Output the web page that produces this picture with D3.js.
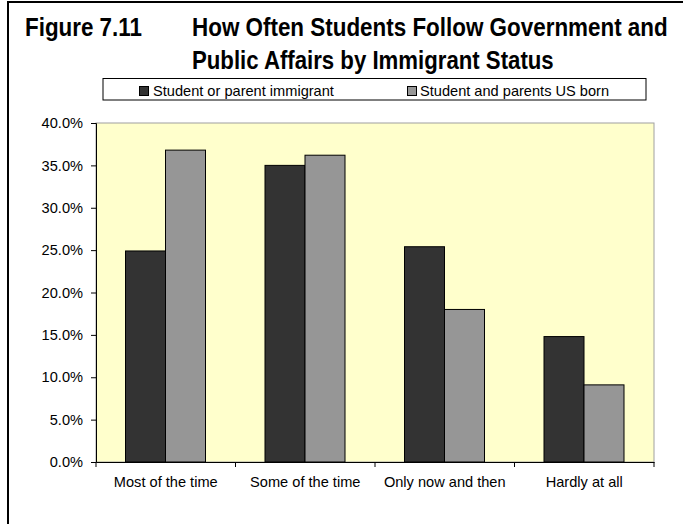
<!DOCTYPE html>
<html>
<head>
<meta charset="utf-8">
<script src="https://cdn.jsdelivr.net/npm/d3@7"></script>
<style>
  html, body { margin: 0; padding: 0; background: #ffffff; }
  svg { display: block; }
  text { font-family: Arial, "Liberation Sans", sans-serif; }
</style>
</head>
<body>
<svg id="chart" width="683" height="524"></svg>
<script>
const categories = ["Most of the time", "Some of the time", "Only now and then", "Hardly at all"];
const seriesNames = ["Student or parent immigrant", "Student and parents US born"];
const immigrantValues = [24.9, 35.0, 25.4, 14.8];
const usBornValues = [36.8, 36.2, 18.0, 9.1];
const yTickValues = [0, 5, 10, 15, 20, 25, 30, 35, 40];
const titleLabel = "Figure 7.11";
const titleLines = ["How Often Students Follow Government and", "Public Affairs by Immigrant Status"];

const colors = ["#333333", "#969696"];
const seriesValues = [immigrantValues, usBornValues];
const FONT = "Arial, 'Liberation Sans', sans-serif";
const FS = 14.6;

const svg = d3.select("#chart");

// outer frame
svg.append("rect")
  .attr("x", 8).attr("y", 2)
  .attr("width", 720).attr("height", 600)
  .attr("fill", "none").attr("stroke", "#000").attr("stroke-width", 2);

// title: condensed bold text, horizontally scaled to the target width
function condensedText(str, x0, y0, targetWidth) {
  const t = svg.append("text")
    .attr("x", 0).attr("y", 0)
    .attr("font-size", 25).attr("font-weight", "bold")
    .attr("font-family", FONT)
    .text(str);
  const w = t.node().getComputedTextLength();
  const sx = targetWidth / w;
  t.attr("transform", `translate(${x0},${y0}) scale(${sx},1)`);
}
condensedText(titleLabel, 25, 36, 117);
condensedText(titleLines[0], 192, 36, 476);
condensedText(titleLines[1], 192, 69, 362);

// scales
const plot = { left: 96, right: 654, top: 123, bottom: 462 };
const x = d3.scaleBand().domain(categories).range([plot.left, plot.right]).paddingInner(0).paddingOuter(0);
const xs = d3.scaleBand().domain(seriesNames).range([29.5, 109.5]);
const y = d3.scaleLinear().domain([0, 40]).range([plot.bottom, plot.top]);

// plot area
svg.append("rect")
  .attr("x", plot.left).attr("y", plot.top)
  .attr("width", plot.right - plot.left).attr("height", plot.bottom - plot.top)
  .attr("fill", "#FFFFCC").attr("stroke", "#a0a0a0").attr("stroke-width", 1);

// bars
seriesNames.forEach((s, si) => {
  svg.append("g").selectAll("rect")
    .data(categories.map((c, i) => ({ c, v: seriesValues[si][i] })))
    .join("rect")
    .attr("x", d => x(d.c) + xs(s))
    .attr("y", d => y(d.v))
    .attr("width", xs.bandwidth())
    .attr("height", d => y(0) - y(d.v))
    .attr("fill", colors[si])
    .attr("stroke", "#000").attr("stroke-width", 1);
});

// y axis
const yAxis = svg.append("g")
  .attr("transform", `translate(${plot.left},0)`)
  .call(d3.axisLeft(y).tickValues(yTickValues).tickSize(5).tickPadding(8)
    .tickFormat(d => d3.format(".1f")(d) + "%"));
yAxis.selectAll("text").attr("font-size", FS).attr("fill", "#000").attr("font-family", FONT);
yAxis.selectAll("line,path").attr("stroke", "#000");

// x axis
const xAxis = svg.append("g")
  .attr("transform", `translate(0,${plot.bottom})`)
  .call(d3.axisBottom(x).tickSize(0).tickPadding(14.5));
xAxis.select(".domain").attr("stroke", "#000");
xAxis.selectAll("text").attr("font-size", FS).attr("fill", "#000").attr("font-family", FONT);
// boundary ticks
const bounds = categories.map(c => x(c)).concat([plot.right]);
svg.append("g").selectAll("line").data(bounds).join("line")
  .attr("x1", d => d).attr("x2", d => d)
  .attr("y1", plot.bottom).attr("y2", plot.bottom + 5)
  .attr("stroke", "#000");

// legend
svg.append("rect")
  .attr("x", 103).attr("y", 78.5).attr("width", 543).attr("height", 21.5)
  .attr("fill", "#fff").attr("stroke", "#000").attr("stroke-width", 1);
const legPos = [[139.5, 153], [407.5, 420]];
seriesNames.forEach((s, i) => {
  svg.append("rect")
    .attr("x", legPos[i][0]).attr("y", 86.5).attr("width", 9).attr("height", 9)
    .attr("fill", colors[i]).attr("stroke", "#000").attr("stroke-width", 1);
  svg.append("text")
    .attr("x", legPos[i][1]).attr("y", 96)
    .attr("font-size", FS).attr("font-family", FONT)
    .text(s);
});
</script>
</body>
</html>
